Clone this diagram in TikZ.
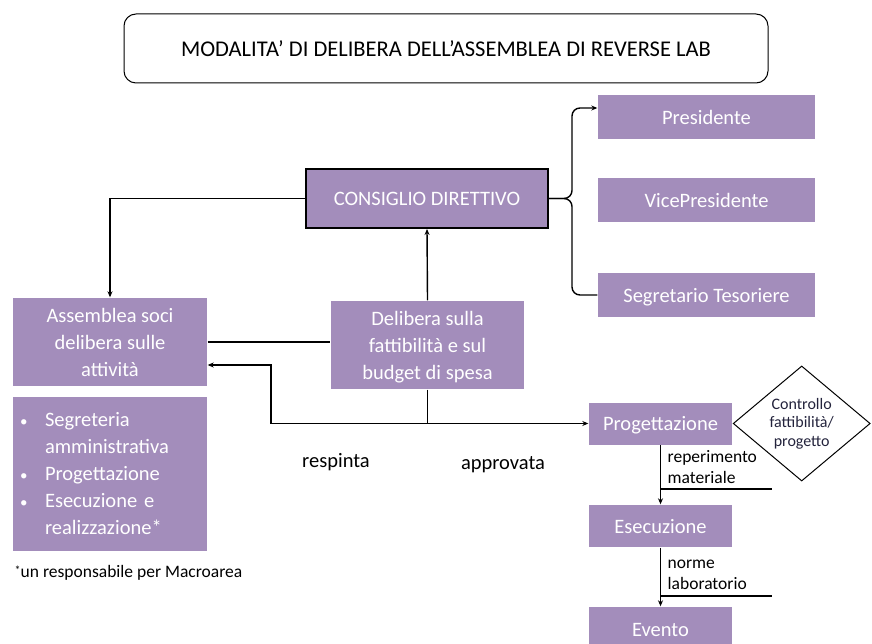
\documentclass[tikz,border=0pt]{standalone}
\usepackage{fontspec}
\setmainfont{Carlito}
\usetikzlibrary{shapes.geometric,arrows.meta}
\definecolor{lilla}{RGB}{163,141,187}
\definecolor{scuro}{RGB}{35,35,60}

\begin{document}
\begin{tikzpicture}[x=1pt,y=-1pt,font=\fontsize{20.5}{27}\selectfont,
    >={Stealth[length=6pt,width=5pt]}, line width=1.4pt]

    \tikzset{box/.style={
        fill=lilla,
        text=white,
        inner sep=0pt,
        align=center
    }}
    \tikzset{piatto/.style={box, text depth=0pt}}
    \tikzset{lab/.style={
        inner sep=0pt,
        align=left,
        font=\fontsize{17.5}{21}\selectfont
    }}
    \def\punto{\makebox[25pt][l]{\fontsize{15}{15}\selectfont\textbullet}}

    \path[use as bounding box, clip] (0,0) rectangle (872,644);

    % titolo
    \node[draw, rounded corners=12pt, line width=1pt, minimum width=644pt, minimum height=69pt,
        font=\fontsize{22.5}{27}\selectfont] (titolo) at (446,48.5) {MODALITA’ DI DELIBERA DELL’ASSEMBLEA DI REVERSE LAB};

    % consiglio e cariche
    \node[piatto, draw=black, line width=2pt, minimum width=242pt, minimum height=59pt] (cons) at (427,198.5) {CONSIGLIO DIRETTIVO};
    \node[piatto, minimum width=217pt, minimum height=44pt] (pres) at (706.5,117) {Presidente};
    \node[piatto, minimum width=217pt, minimum height=44pt] (vice) at (706.5,200.5) {VicePresidente};
    \node[piatto, minimum width=217pt, minimum height=44pt] (segr) at (706.5,295) {Segretario Tesoriere};
    \coordinate (graffa) at (572,198.5);
    \draw[->, rounded corners=8pt] (cons.east) -- (graffa) |- ([yshift=9pt]pres.west);
    \draw[rounded corners=8pt] (cons.east) -- (graffa) |- (segr.west);

    % assemblea e delibera
    \node[piatto, minimum width=194pt, minimum height=88pt] (assem) at (110,342) {Assemblea soci\\delibera sulle\\attività};
    \node[piatto, minimum width=193pt, minimum height=88pt] (delib) at (427.5,345) {Delibera sulla\\fattibilità e sul\\budget di spesa};
    \node[box, minimum width=194pt, minimum height=154pt, text width=180pt, align=left] (compiti) at (110,474) {%
        \punto Segreteria\\
        \hspace*{25pt}amministrativa\\
        \punto Progettazione\\
        \punto Esecuzione e\\
        \hspace*{25pt}realizzazione*};
    \node[lab, anchor=west] (nota) at (14,573) {\raisebox{3pt}{\fontsize{12}{12}\selectfont*}un responsabile per Macroarea};

    \draw[->] (cons.west) -| (assem.north);
    \draw[->] (delib.north) -- (cons.south);
    \draw (assem.east) -- (assem.east -| delib.west);

    % progetto
    \node[piatto, minimum width=143pt, minimum height=42pt] (prog) at (660.5,423.5) {Progettazione};
    \node[piatto, minimum width=143pt, minimum height=42pt] (esec) at (660.5,526) {Esecuzione};
    \node[piatto, minimum width=143pt, minimum height=46pt] (evento) at (660.5,630) {Evento};
    \node[draw, diamond, minimum width=137pt, minimum height=108pt, inner sep=0pt, line width=1pt,
        anchor=west, align=center, text=scuro, font=\fontsize{16}{18.5}\selectfont] (ctrl) at (prog.east) {Controllo\\fattibilità/\\progetto};

    \coordinate (bivio) at (delib.south |- prog.west);
    \coordinate (ritorno) at (271,365);
    \draw (delib.south) -- (bivio);
    \draw[->] (bivio) -- (prog.west);
    \draw[->] (bivio) -| (ritorno) -- (ritorno -| assem.east);
    \node[inner sep=0pt] (respinta) at (336,462) {respinta};
    \node[inner sep=0pt] (approvata) at (503,465) {approvata};

    \draw[->] (prog.south) -- (esec.north);
    \draw[->] (esec.south) -- (evento.north);
    \coordinate (rep) at (660.5,489);
    \coordinate (norme) at (660.5,596);
    \draw (rep) -- ++(111,0);
    \draw (norme) -- ++(111,0);
    \node[lab, anchor=base west] (materiale) at (667,483) {reperimento\\materiale};
    \node[lab, anchor=base west] (laboratorio) at (667,589) {norme\\laboratorio};

\end{tikzpicture}
\end{document}
